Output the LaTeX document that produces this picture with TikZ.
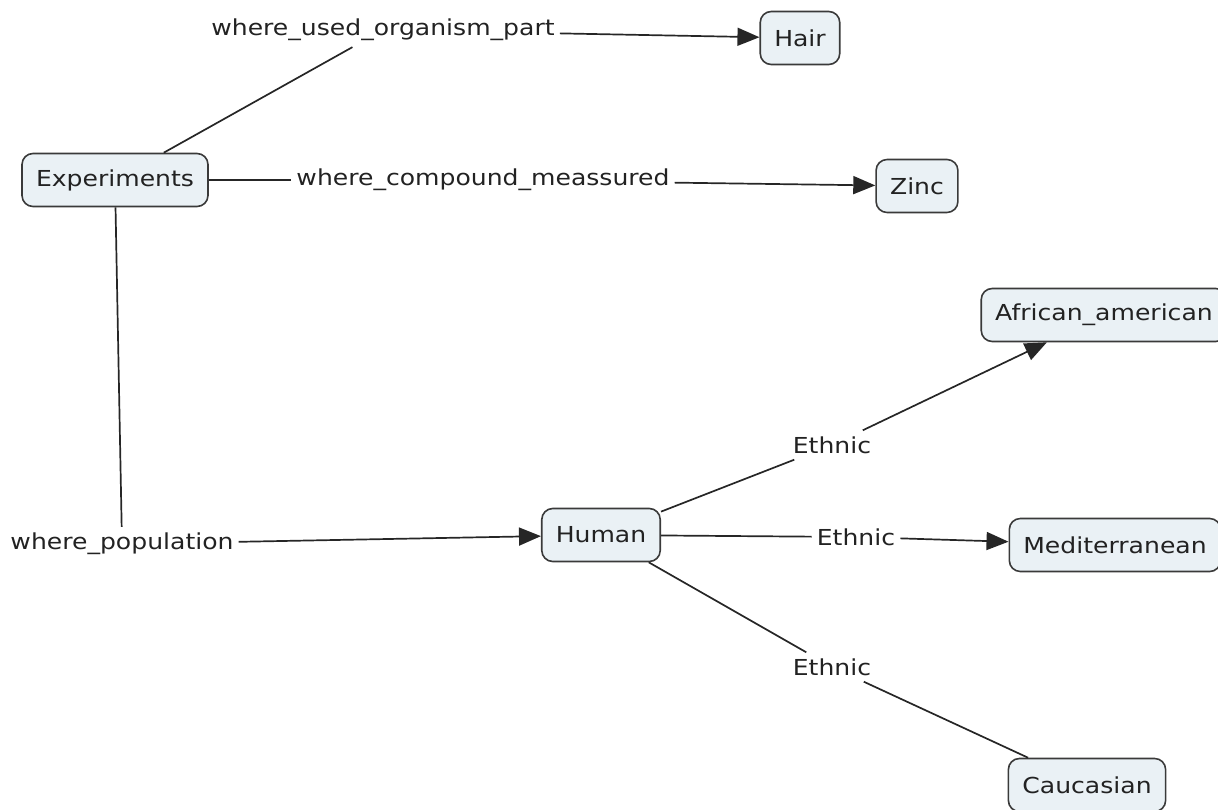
\documentclass[tikz,border=0pt]{standalone}
\usepackage{fontspec}
\setmainfont{DejaVu Sans}[FakeStretch=1.14]
\usepackage{tikz}
\usetikzlibrary{arrows.meta}

\definecolor{conceptfill}{HTML}{EAF1F5}
\definecolor{conceptline}{HTML}{3A3A3A}
\definecolor{inktext}{HTML}{222222}

\tikzset{
  concept/.style={draw=conceptline, fill=conceptfill, line width=1.6pt,
    rounded corners=11pt, inner xsep=14pt, minimum height=53pt,
    text=inktext, font=\fontsize{22}{26}\selectfont},
  linkword/.style={inner xsep=5pt, inner ysep=6pt, text=inktext,
    font=\fontsize{22}{26}\selectfont},
  link/.style={line width=1.7pt, draw=black!85},
  linkto/.style={link, -{Triangle[length=22pt,width=18pt]}}
}

\begin{document}
\begin{tikzpicture}[x=1pt,y=-1pt]
\useasboundingbox (0,0) rectangle (1218,810);

% concepts
\node[concept] (exp) at (115,180) {Experiments};
\node[concept] (hair) at (800,38) {Hair};
\node[concept] (zinc) at (917,186) {Zinc};
\node[concept] (human) at (601,535) {Human};
\node[concept] (afr) at (1104,315) {African\_american};
\node[concept] (med) at (1115,545) {Mediterranean};
\node[concept] (cau) at (1087,785) {Caucasian};

% linking words
\node[linkword] (organ) at (383,30) {where\_used\_organism\_part};
\node[linkword] (compound) at (483,180) {where\_compound\_meassured};
\node[linkword] (pop) at (122,544) {where\_population};
\node[linkword] (eth1) at (832,445) {Ethnic};
\node[linkword] (eth2) at (856,537) {Ethnic};
\node[linkword] (eth3) at (832,667) {Ethnic};

% links
\draw[link] (exp) -- (organ);
\draw[linkto] (organ) -- (hair);
\draw[link] (exp) -- (compound);
\draw[linkto] (compound) -- (zinc);
\draw[link] (exp) -- (pop);
\draw[linkto] (pop) -- (human);

\draw[link] (human) -- (eth1);
\draw[linkto] (eth1) -- (afr);
\draw[link] (human) -- (eth2);
\draw[linkto] (eth2) -- (med);
\draw[link] (human) -- (eth3);
\draw[link] (eth3) -- (cau);

\end{tikzpicture}
\end{document}
